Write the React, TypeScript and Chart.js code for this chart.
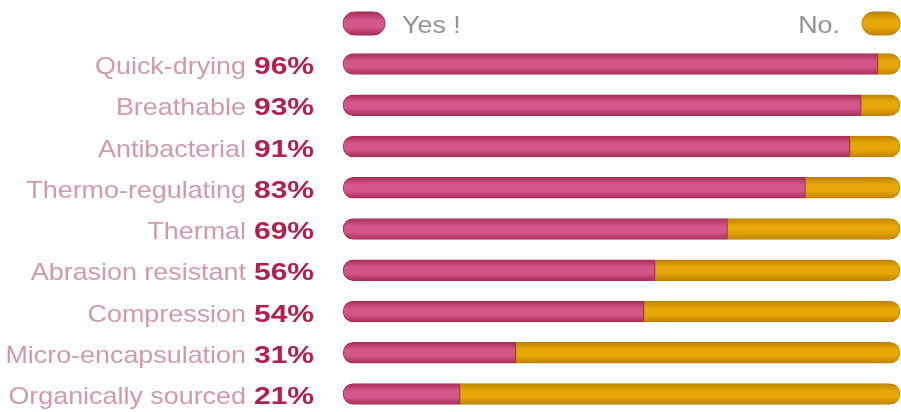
import React, { useEffect, useRef } from "react";
import { Chart, registerables } from "chart.js";

Chart.register(...registerables);

const categories = [
  "Quick-drying",
  "Breathable",
  "Antibacterial",
  "Thermo-regulating",
  "Thermal",
  "Abrasion resistant",
  "Compression",
  "Micro-encapsulation",
  "Organically sourced",
];
const yesValues = [96, 93, 91, 83, 69, 56, 54, 31, 21];
const noValues = [4, 7, 9, 17, 31, 44, 46, 69, 79];
const pctLabels = ["96%", "93%", "91%", "83%", "69%", "56%", "54%", "31%", "21%"];
const legendLabels = ["Yes !", "No."];

const YES_DARK = "#a52d56";
const YES_LIGHT = "#d4578a";
const NO_DARK = "#bf8200";
const NO_LIGHT = "#e6a808";
const BAR_H = 21;
const FONT = "'Liberation Sans', Arial, sans-serif";
const NAME_SX = 1.12;
const PCT_SX = 1.25;
const LEG_SX = 1.12;

function tubeGradient(ctx: CanvasRenderingContext2D, yc: number, dark: string, light: string) {
  const g = ctx.createLinearGradient(0, yc - BAR_H / 2, 0, yc + BAR_H / 2);
  g.addColorStop(0, dark);
  g.addColorStop(0.35, light);
  g.addColorStop(0.65, light);
  g.addColorStop(1, dark);
  return g;
}

function scriptedFill(dark: string, light: string) {
  return (c: any) => {
    const chart = c.chart;
    const y = chart.scales && chart.scales.y;
    if (!y || c.dataIndex === undefined) return light;
    const yc = y.getPixelForValue(c.dataIndex);
    if (!isFinite(yc)) return light;
    return tubeGradient(chart.ctx, yc, dark, light);
  };
}

function stretchedText(
  ctx: CanvasRenderingContext2D,
  text: string,
  x: number,
  y: number,
  sx: number,
  align: CanvasTextAlign
) {
  ctx.save();
  ctx.translate(x, y);
  ctx.scale(sx, 1);
  ctx.textAlign = align;
  ctx.fillText(text, 0, 0);
  ctx.restore();
}

const labelsPlugin = {
  id: "sideLabels",
  afterDatasetsDraw(chart: any) {
    const ctx = chart.ctx as CanvasRenderingContext2D;
    const y = chart.scales.y;
    const right = 314;
    ctx.save();
    ctx.textBaseline = "alphabetic";
    categories.forEach((name, i) => {
      const yc = y.getPixelForValue(i);
      const base = yc + 10;
      ctx.font = `bold 24px ${FONT}`;
      const pct = pctLabels[i];
      const pw = ctx.measureText(pct).width * PCT_SX;
      ctx.fillStyle = "#b3204f";
      stretchedText(ctx, pct, right, base, PCT_SX, "right");
      ctx.font = `24px ${FONT}`;
      ctx.fillStyle = "#d09aae";
      stretchedText(ctx, name, right - pw - 8, base, NAME_SX, "right");
    });

    // legend
    const area = chart.chartArea;
    const ly = 23.5;
    const drawPill = (x: number, sw: number, dark: string, light: string) => {
      const r = 11.5;
      ctx.beginPath();
      ctx.moveTo(x + r, ly - r);
      ctx.lineTo(x + sw - r, ly - r);
      ctx.arc(x + sw - r, ly, r, -Math.PI / 2, Math.PI / 2);
      ctx.lineTo(x + r, ly + r);
      ctx.arc(x + r, ly, r, Math.PI / 2, (3 * Math.PI) / 2);
      ctx.closePath();
      const g = ctx.createLinearGradient(0, ly - r, 0, ly + r);
      g.addColorStop(0, dark);
      g.addColorStop(0.35, light);
      g.addColorStop(0.65, light);
      g.addColorStop(1, dark);
      ctx.fillStyle = g;
      ctx.fill();
      ctx.lineWidth = 1;
      ctx.strokeStyle = dark;
      ctx.stroke();
    };
    drawPill(area.left, 42, YES_DARK, YES_LIGHT);
    drawPill(area.right - 38, 38, NO_DARK, NO_LIGHT);
    ctx.font = `24px ${FONT}`;
    ctx.fillStyle = "#939393";
    stretchedText(ctx, legendLabels[0], area.left + 59, 33, LEG_SX, "left");
    stretchedText(ctx, legendLabels[1], area.right - 60, 33, LEG_SX, "right");
    ctx.restore();
  },
};

export default function App() {
  const ref = useRef<HTMLCanvasElement | null>(null);
  useEffect(() => {
    if (!ref.current) return;
    const chart = new Chart(ref.current, {
      type: "bar",
      data: {
        labels: categories,
        datasets: [
          {
            label: legendLabels[0],
            data: yesValues,
            backgroundColor: scriptedFill(YES_DARK, YES_LIGHT),
            borderColor: YES_DARK,
            borderWidth: 1,
            borderSkipped: false,
            borderRadius: { topLeft: 11, bottomLeft: 11, topRight: 0, bottomRight: 0 },
            barThickness: BAR_H,
            clip: false,
          } as any,
          {
            label: legendLabels[1],
            data: noValues,
            backgroundColor: scriptedFill(NO_DARK, NO_LIGHT),
            borderColor: NO_DARK,
            borderWidth: 1,
            borderSkipped: false,
            borderRadius: { topLeft: 0, bottomLeft: 0, topRight: 11, bottomRight: 11 },
            barThickness: BAR_H,
            clip: false,
          } as any,
        ],
      },
      options: {
        indexAxis: "y",
        animation: false,
        responsive: false,
        maintainAspectRatio: false,
        layout: { padding: { left: 343, right: 1, top: 64, bottom: 18 } },
        plugins: { legend: { display: false }, tooltip: { enabled: false } },
        scales: {
          x: { stacked: true, min: 0, max: 100, display: false },
          y: { stacked: true, display: false, offset: false },
        },
      },
      plugins: [labelsPlugin],
    });
    return () => chart.destroy();
  }, []);
  return (
    <div style={{ position: "fixed", left: 0, top: 0, width: 901, height: 412, background: "#fff" }}>
      <canvas ref={ref} width={901} height={412} style={{ width: 901, height: 412, display: "block" }} />
    </div>
  );
}
